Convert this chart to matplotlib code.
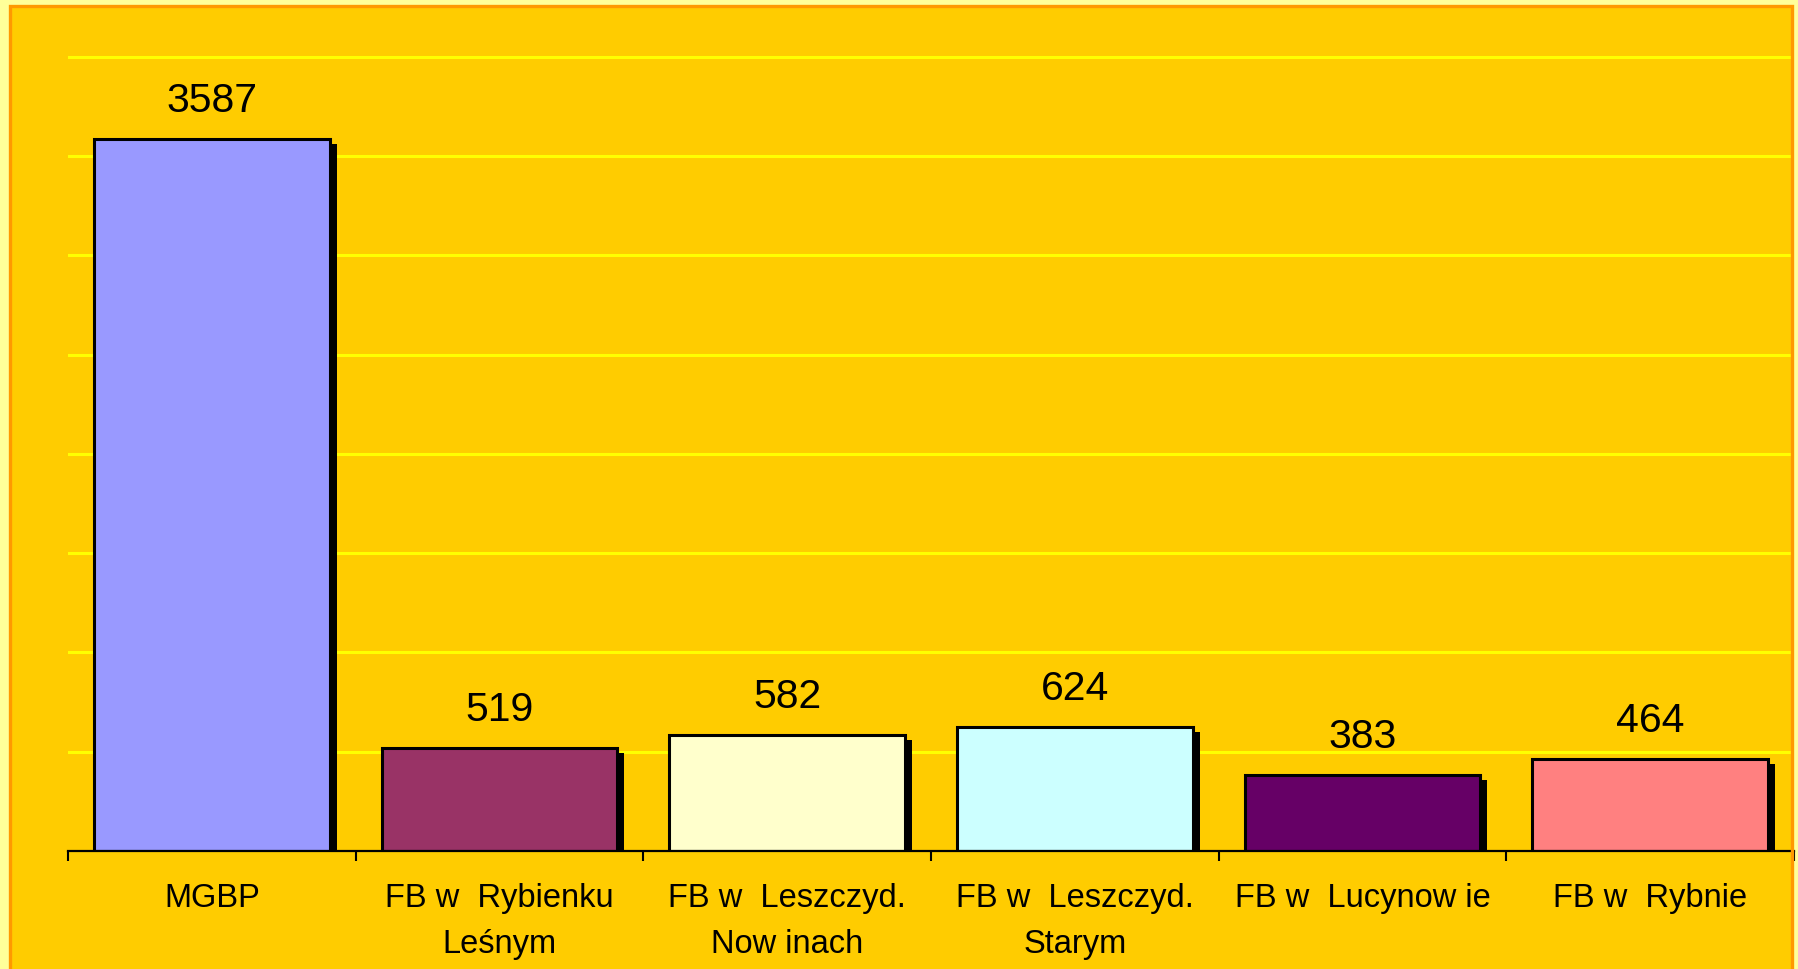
import matplotlib
matplotlib.use("Agg")
import matplotlib.pyplot as plt
import matplotlib.transforms as mtransforms
from matplotlib import font_manager
from matplotlib.patches import Rectangle

categories = ["MGBP", "FB w  Rybienku\nLeśnym", "FB w  Leszczyd.\nNow inach",
              "FB w  Leszczyd.\nStarym", "FB w  Lucynow ie", "FB w  Rybnie"]
values = [3587, 519, 582, 624, 383, 464]
bar_colors = ["#9999FF", "#993366", "#FFFFCC", "#CCFFFF", "#660066", "#FF8080"]
grid_levels = [500, 1000, 1500, 2000, 2500, 3000, 3500, 4000]


def pick_font(names):
    have = {f.name for f in font_manager.fontManager.ttflist}
    for n in names:
        if n in have:
            return n
    return "DejaVu Sans"


def main():
    main_font = pick_font(["Liberation Sans", "Arial", "DejaVu Sans"])
    narrow_font = pick_font(["Liberation Sans Narrow", "Arial Narrow", main_font])

    W, H, dpi = 1799, 969, 100
    fig = plt.figure(figsize=(W / dpi, H / dpi), dpi=dpi, facecolor="#FFFF99")

    # chart area with orange frame (runs off the bottom of the picture)
    fx0, fx1, fy_top = 10.5 / W, 1792.5 / W, 1 - 6 / H
    fig.patches.append(Rectangle((fx0, -0.05), fx1 - fx0, fy_top + 0.05,
                                 transform=fig.transFigure, facecolor="#FFCC00",
                                 edgecolor="none", zorder=-1))
    fig.patches.append(Rectangle((fx0, -0.05), fx1 - fx0, fy_top + 0.05,
                                 transform=fig.transFigure, facecolor="none",
                                 edgecolor="#FF9900", linewidth=2.4, zorder=5))

    left, right = 68 / W, 1794 / W
    bottom, top = 1 - 851 / H, 1 - 55 / H
    ax = fig.add_axes([left, bottom, right - left, top - bottom])
    ax.set_facecolor("none")

    x = list(range(len(categories)))
    shadow = ax.transData + mtransforms.ScaledTranslation(7 / dpi, -5 / dpi, fig.dpi_scale_trans)
    ax.bar(x, values, width=0.82, color="black", linewidth=0, transform=shadow, zorder=2)
    ax.bar(x, values, width=0.82, color=bar_colors, edgecolor="black", linewidth=2.2, zorder=3)

    for xi, v in zip(x, values):
        ax.annotate(str(v), (xi, v), xytext=(0, 19.5), textcoords="offset points",
                    ha="center", va="baseline", fontsize=29.5, family=main_font,
                    color="black", zorder=4)

    for g in grid_levels:
        ax.axhline(g, color="#FFFF00", linewidth=2.2, zorder=1)

    ax.set_xlim(-0.5, 5.5)
    ax.set_ylim(0, 4010)
    ax.set_yticks([])
    for s in ["left", "top", "right"]:
        ax.spines[s].set_visible(False)
    ax.spines["bottom"].set_linewidth(1.6)
    ax.spines["bottom"].set_zorder(4)

    ax.set_xticks(x)
    ax.set_xticklabels(categories, fontsize=23.5, family=narrow_font, linespacing=1.62)
    ax.tick_params(axis="x", which="major", length=0, pad=23)
    ax.set_xticks([i - 0.5 for i in range(len(categories) + 1)], minor=True)
    ax.tick_params(axis="x", which="minor", length=7.5, width=1.5, direction="out")

    fig.savefig("out.png", dpi=dpi, facecolor=fig.get_facecolor())


if __name__ == "__main__":
    main()
